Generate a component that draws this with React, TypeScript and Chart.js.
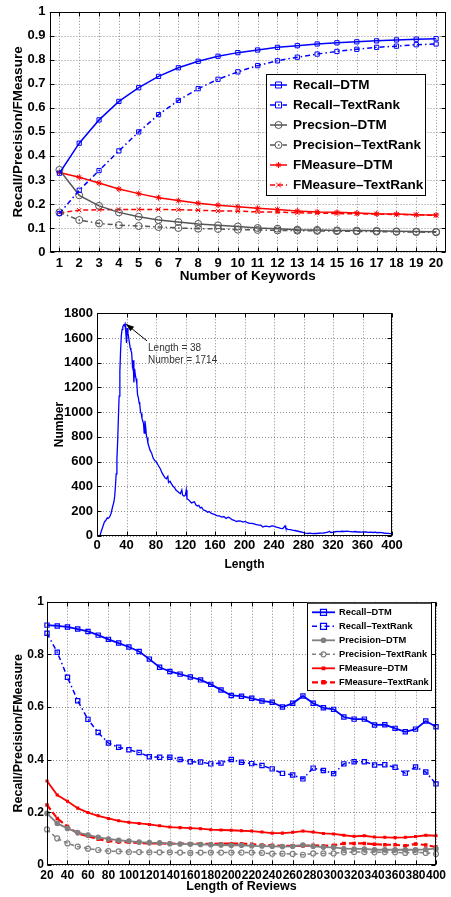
import React, { useEffect, useRef } from 'react';
import { Chart, registerables } from 'chart.js';

Chart.register(...registerables);

// ---------- Chart 1: Number of Keywords ----------
const keywordCounts = ['1','2','3','4','5','6','7','8','9','10','11','12','13','14','15','16','17','18','19','20'];
const kwRecallDTM = [0.328,0.453,0.550,0.627,0.684,0.731,0.767,0.794,0.815,0.830,0.841,0.852,0.859,0.866,0.871,0.875,0.879,0.883,0.886,0.888];
const kwRecallTextRank = [0.160,0.257,0.339,0.421,0.500,0.572,0.631,0.680,0.719,0.750,0.776,0.796,0.811,0.824,0.835,0.844,0.852,0.857,0.863,0.866];
const kwPrecisionDTM = [0.342,0.236,0.192,0.165,0.147,0.133,0.125,0.117,0.111,0.106,0.100,0.097,0.093,0.092,0.090,0.089,0.088,0.086,0.085,0.084];
const kwPrecisionTextRank = [0.165,0.133,0.119,0.112,0.108,0.104,0.100,0.097,0.096,0.093,0.092,0.090,0.089,0.088,0.087,0.086,0.085,0.084,0.083,0.082];
const kwFMeasureDTM = [0.331,0.311,0.287,0.262,0.243,0.226,0.214,0.203,0.195,0.188,0.182,0.177,0.171,0.167,0.165,0.162,0.159,0.158,0.155,0.154];
const kwFMeasureTextRank = [0.163,0.174,0.176,0.177,0.177,0.177,0.176,0.174,0.171,0.170,0.167,0.166,0.163,0.162,0.160,0.159,0.158,0.156,0.155,0.152];

// ---------- Chart 2: Length distribution ----------
const distLengths = [4,6,8,10,12,14,15,17,19,21,23,24,25,26,27,28,29,30,31,32,33,34,35,36,37,38,39,40,41,42,43,44,45,46,47,48,49,50,51,52,53,54,55,56,57,58,59,60,61,62,63,64,65,66,67,68,69,70,72,74,76,78,80,82,84,86,88,90,92,94,96,97,99,101,103,105,107,109,111,113,115,116,118,120,121,122,124,126,128,130,132,134,136,138,140,142,144,146,148,150,152,155,158,160,163,166,169,172,175,178,180,183,186,189,192,195,198,201,204,207,210,213,216,219,222,225,228,231,234,237,240,243,246,249,252,255,256,259,262,265,268,271,274,277,280,283,286,289,292,295,298,301,304,307,310,313,315,317,320,323,326,329,332,335,338,341,344,347,350,353,356,359,362,365,368,371,374,377,380,383,386,389,392,395,398,400];
const distCounts = [0,40,75,110,125,145,140,150,180,230,275,320,400,500,620,760,950,1130,1330,1500,1620,1670,1690,1705,1700,1714,1650,1560,1680,1640,1600,1560,1520,1500,1480,1380,1420,1240,1350,1300,1270,1230,1140,1120,1080,1060,1000,990,950,930,910,830,930,880,810,790,750,730,690,670,630,610,600,580,560,540,510,490,470,460,480,430,440,420,400,390,370,360,350,340,370,330,320,330,370,300,290,280,265,270,275,250,240,245,225,230,210,205,200,190,195,180,175,170,160,160,150,155,140,150,145,130,125,115,120,118,110,115,105,100,100,95,90,85,85,70,78,75,72,80,78,70,65,60,58,80,60,52,50,45,42,38,34,30,25,20,18,20,17,19,18,20,21,22,25,28,36,26,28,32,35,33,36,34,37,35,33,31,34,30,31,29,31,30,27,29,26,28,24,27,25,22,20,19,16,14];
const peakLength = 38;
const peakCount = 1714;

// ---------- Chart 3: Length of Reviews ----------
const reviewLengths = [20,30,40,50,60,70,80,90,100,110,120,130,140,150,160,170,180,190,200,210,220,230,240,250,260,270,280,290,300,310,320,330,340,350,360,370,380,390,400];
const rvRecallDTM = [0.911,0.908,0.904,0.896,0.887,0.873,0.857,0.843,0.828,0.811,0.782,0.751,0.735,0.725,0.714,0.703,0.686,0.665,0.644,0.641,0.633,0.623,0.618,0.600,0.614,0.642,0.614,0.597,0.591,0.562,0.554,0.554,0.532,0.533,0.519,0.506,0.516,0.547,0.525];
const rvRecallTextRank = [0.880,0.808,0.713,0.624,0.553,0.503,0.463,0.447,0.438,0.427,0.411,0.409,0.409,0.401,0.392,0.391,0.384,0.387,0.401,0.390,0.385,0.378,0.365,0.348,0.342,0.327,0.368,0.359,0.347,0.384,0.392,0.392,0.380,0.381,0.371,0.349,0.372,0.353,0.308];
const rvPrecisionDTM = [0.196,0.158,0.139,0.123,0.114,0.105,0.099,0.094,0.091,0.087,0.085,0.084,0.081,0.080,0.079,0.078,0.077,0.076,0.075,0.075,0.073,0.072,0.071,0.070,0.071,0.076,0.071,0.068,0.067,0.062,0.061,0.061,0.058,0.058,0.058,0.058,0.058,0.059,0.062];
const rvPrecisionTextRank = [0.135,0.101,0.082,0.070,0.062,0.057,0.053,0.052,0.049,0.049,0.048,0.048,0.048,0.047,0.046,0.047,0.047,0.047,0.047,0.047,0.047,0.046,0.043,0.043,0.042,0.039,0.044,0.044,0.044,0.048,0.049,0.049,0.048,0.049,0.048,0.046,0.049,0.046,0.042];
const rvFMeasureDTM = [0.319,0.266,0.242,0.216,0.199,0.187,0.177,0.168,0.162,0.158,0.154,0.149,0.144,0.142,0.140,0.138,0.134,0.133,0.132,0.130,0.129,0.125,0.121,0.121,0.124,0.129,0.125,0.120,0.118,0.113,0.109,0.111,0.106,0.105,0.104,0.105,0.108,0.113,0.111];
const rvFMeasureTextRank = [0.228,0.177,0.146,0.120,0.110,0.098,0.091,0.087,0.086,0.084,0.082,0.082,0.081,0.081,0.081,0.081,0.080,0.081,0.081,0.081,0.079,0.076,0.075,0.073,0.073,0.072,0.075,0.073,0.075,0.082,0.082,0.082,0.079,0.077,0.077,0.073,0.080,0.076,0.068];

const FONT = "'Liberation Sans', Arial, Helvetica, sans-serif";
const BLUE = '#0000ff';
const RED = '#ff0000';
const DASHDOT = [5, 3, 1.5, 3];

function drawMarker(ctx: CanvasRenderingContext2D, style: string, x: number, y: number, r: number, stroke: string, fill: string, lw: number) {
  ctx.save();
  ctx.setLineDash([]);
  ctx.lineWidth = lw;
  ctx.strokeStyle = stroke;
  ctx.fillStyle = fill;
  ctx.beginPath();
  if (style === 'rect') {
    ctx.rect(x - r, y - r, 2 * r, 2 * r);
    ctx.fill();
    ctx.stroke();
  } else if (style === 'circle') {
    ctx.arc(x, y, r, 0, Math.PI * 2);
    ctx.fill();
    ctx.stroke();
  } else if (style === 'star') {
    ctx.moveTo(x - r, y); ctx.lineTo(x + r, y);
    ctx.moveTo(x, y - r); ctx.lineTo(x, y + r);
    const d = r * 0.707;
    ctx.moveTo(x - d, y - d); ctx.lineTo(x + d, y + d);
    ctx.moveTo(x - d, y + d); ctx.lineTo(x + d, y - d);
    ctx.stroke();
  } else if (style === 'crossRot') {
    const d = r * 0.8;
    ctx.moveTo(x - d, y - d); ctx.lineTo(x + d, y + d);
    ctx.moveTo(x - d, y + d); ctx.lineTo(x + d, y - d);
    ctx.stroke();
  }
  ctx.restore();
}

// dotted MATLAB-style grid drawn beneath the data
const dottedGrid = {
  id: 'dottedGrid',
  beforeDatasetsDraw(chart: any) {
    const { ctx, chartArea: a, scales } = chart;
    ctx.save();
    ctx.strokeStyle = '#8c8c8c';
    ctx.lineWidth = 1;
    ctx.setLineDash([1, 2]);
    ctx.beginPath();
    const xs = scales.x;
    xs.ticks.forEach((_t: any, i: number) => {
      const p = Math.round(xs.getPixelForTick(i)) + 0.5;
      ctx.moveTo(p, a.top); ctx.lineTo(p, a.bottom);
    });
    const ys = scales.y;
    ys.ticks.forEach((_t: any, i: number) => {
      const p = Math.round(ys.getPixelForTick(i)) + 0.5;
      ctx.moveTo(a.left, p); ctx.lineTo(a.right, p);
    });
    ctx.stroke();
    ctx.restore();
  },
};

const framePlugin = {
  id: 'matlabFrame',
  afterDatasetsDraw(chart: any) {
    const { ctx, chartArea: a, scales } = chart;
    ctx.save();
    ctx.setLineDash([]);
    ctx.strokeStyle = '#000';
    ctx.lineWidth = 1;
    const L = Math.round(a.left) + 0.5, R = Math.round(a.right) - 0.5;
    const T = Math.round(a.top) + 0.5, B = Math.round(a.bottom) - 0.5;
    ctx.strokeRect(L, T, R - L, B - T);
    const tl = 4;
    ctx.beginPath();
    const xs = scales.x;
    xs.ticks.forEach((_t: any, i: number) => {
      const p = Math.round(xs.getPixelForTick(i)) + 0.5;
      ctx.moveTo(p, B); ctx.lineTo(p, B - tl);
      ctx.moveTo(p, T); ctx.lineTo(p, T + tl);
    });
    const ys = scales.y;
    ys.ticks.forEach((_t: any, i: number) => {
      const p = Math.round(ys.getPixelForTick(i)) + 0.5;
      ctx.moveTo(L, p); ctx.lineTo(L + tl, p);
      ctx.moveTo(R, p); ctx.lineTo(R - tl, p);
    });
    ctx.stroke();
    ctx.restore();
  },
};

function boxLegend(box: { x: number; y: number; w: number; h: number }, firstY: number, rowH: number, sx0: number, sx1: number, tx: number, fontSize: number) {
  return {
    id: 'boxLegend',
    afterDraw(chart: any) {
      const ctx = chart.ctx as CanvasRenderingContext2D;
      ctx.save();
      ctx.setLineDash([]);
      ctx.fillStyle = '#fff';
      ctx.fillRect(box.x, box.y, box.w, box.h);
      ctx.strokeStyle = '#000';
      ctx.lineWidth = 1;
      ctx.strokeRect(box.x + 0.5, box.y + 0.5, box.w, box.h);
      chart.data.datasets.forEach((ds: any, i: number) => {
        const y = firstY + i * rowH;
        ctx.save();
        ctx.setLineDash(ds.borderDash || []);
        ctx.strokeStyle = ds.borderColor;
        ctx.lineWidth = ds.borderWidth;
        ctx.beginPath();
        ctx.moveTo(sx0, y);
        ctx.lineTo(sx1, y);
        ctx.stroke();
        ctx.restore();
        drawMarker(ctx, ds.pointStyle, (sx0 + sx1) / 2, y, ds.pointRadius, ds.pointBorderColor || ds.borderColor, ds.pointBackgroundColor, ds.pointBorderWidth || 1);
        ctx.fillStyle = '#000';
        ctx.font = `bold ${fontSize}px ${FONT}`;
        ctx.textAlign = 'left';
        ctx.textBaseline = 'middle';
        ctx.fillText(ds.label, tx, y + 0.5);
      });
      ctx.restore();
    },
  };
}

const peakAnnotation = {
  id: 'peakAnnotation',
  afterDatasetsDraw(chart: any) {
    const { ctx, scales } = chart;
    const px = scales.x.getPixelForValue(peakLength);
    const py = scales.y.getPixelForValue(peakCount);
    ctx.save();
    ctx.strokeStyle = '#000';
    ctx.fillStyle = '#000';
    ctx.lineWidth = 1;
    const sx = px + 22, sy = py + 17;
    const ex = px + 1, ey = py;
    ctx.beginPath();
    ctx.moveTo(sx, sy);
    ctx.lineTo(ex, ey);
    ctx.stroke();
    const ang = Math.atan2(ey - sy, ex - sx);
    const hl = 8, hw = 3;
    ctx.beginPath();
    ctx.moveTo(ex, ey);
    ctx.lineTo(ex - hl * Math.cos(ang) + hw * Math.sin(ang), ey - hl * Math.sin(ang) - hw * Math.cos(ang));
    ctx.lineTo(ex - hl * Math.cos(ang) - hw * Math.sin(ang), ey - hl * Math.sin(ang) + hw * Math.cos(ang));
    ctx.closePath();
    ctx.fill();
    ctx.fillStyle = '#333';
    ctx.font = `10px ${FONT}`;
    ctx.textAlign = 'left';
    ctx.textBaseline = 'middle';
    ctx.fillText(`Length = ${peakLength}`, px + 23, py + 24);
    ctx.fillText(`Number = ${peakCount}`, px + 23, py + 36);
    ctx.restore();
  },
};

const noGrid = { display: false, drawTicks: false };
const noBorder = { display: false };

function config1(): any {
  const mk = (label: string, data: number[], color: string, dash: number[], style: string, r: number) => ({
    label, data, borderColor: color, borderWidth: 1.5, borderDash: dash,
    pointStyle: style, pointRadius: r, pointBorderColor: color, pointBackgroundColor: 'rgba(0,0,0,0)', pointBorderWidth: 1,
    tension: 0, clip: false,
  });
  return {
    type: 'line',
    data: {
      labels: keywordCounts,
      datasets: [
        mk('Recall–DTM', kwRecallDTM, BLUE, [], 'rect', 3),
        mk('Recall–TextRank', kwRecallTextRank, BLUE, DASHDOT, 'rect', 3),
        mk('Precsion–DTM', kwPrecisionDTM, '#555555', [], 'circle', 3.5),
        mk('Precision–TextRank', kwPrecisionTextRank, '#555555', DASHDOT, 'circle', 3.5),
        mk('FMeasure–DTM', kwFMeasureDTM, RED, [], 'star', 3),
        mk('FMeasure–TextRank', kwFMeasureTextRank, RED, [5, 3], 'crossRot', 3),
      ],
    },
    options: {
      responsive: false, animation: false,
      layout: { padding: { left: 9.9, right: 5, top: 9.5, bottom: 5.9 } },
      plugins: { legend: { display: false }, tooltip: { enabled: false } },
      scales: {
        x: {
          type: 'category', offset: true,
          grid: { ...noGrid, offset: false },
          border: noBorder,
          ticks: { color: '#000', font: { family: FONT, size: 13, weight: 'bold' }, padding: 3.2, maxRotation: 0, autoSkip: false },
          title: { display: true, text: 'Number of Keywords', color: '#000', padding: 0, font: { family: FONT, size: 13.5, weight: 'bold' } },
          afterFit: (s: any) => { s.height = 32.1; },
        },
        y: {
          min: 0, max: 1,
          grid: noGrid,
          border: noBorder,
          ticks: { stepSize: 0.1, color: '#000', font: { family: FONT, size: 13, weight: 'bold' }, padding: 4, callback: (v: number) => String(Math.round(v * 10) / 10) },
          title: { display: true, text: 'Recall/Precision/FMeasure', color: '#000', padding: 0, font: { family: FONT, size: 13.5, weight: 'bold' } },
          afterFit: (s: any) => { s.width = 39.6; },
        },
      },
    },
    plugins: [dottedGrid, framePlugin, boxLegend({ x: 266, y: 74, w: 159, h: 121 }, 85, 20, 270, 287, 293, 13.5)],
  };
}

function config2(): any {
  return {
    type: 'line',
    data: {
      datasets: [{
        label: 'Number',
        data: distLengths.map((x, i) => ({ x, y: distCounts[i] })),
        borderColor: BLUE, borderWidth: 1.3, pointRadius: 0, tension: 0,
      }],
    },
    options: {
      responsive: false, animation: false,
      layout: { padding: { left: 52.8, right: 59, top: 13.3, bottom: 17.8 } },
      plugins: { legend: { display: false }, tooltip: { enabled: false } },
      scales: {
        x: {
          type: 'linear', min: 0, max: 400,
          grid: noGrid,
          border: noBorder,
          ticks: { stepSize: 40, color: '#000', font: { family: FONT, size: 13, weight: 'bold' }, padding: 1.8, maxRotation: 0, autoSkip: false, callback: (v: number) => String(v) },
          title: { display: true, text: 'Length', color: '#000', padding: 0, font: { family: FONT, size: 12, weight: 'bold' } },
          afterFit: (s: any) => { s.height = 36.5; },
        },
        y: {
          min: 0, max: 1800,
          grid: noGrid,
          border: noBorder,
          ticks: { stepSize: 200, color: '#000', font: { family: FONT, size: 13, weight: 'bold' }, padding: 4, callback: (v: number) => String(v) },
          title: { display: true, text: 'Number', color: '#000', padding: 0, font: { family: FONT, size: 12, weight: 'bold' } },
          afterFit: (s: any) => { s.width = 44.2; },
        },
      },
    },
    plugins: [dottedGrid, framePlugin, peakAnnotation],
  };
}

function config3(): any {
  const GRAY = '#808080';
  const mk = (label: string, data: number[], color: string, dash: number[], style: string, r: number, fill: string, bw: number) => ({
    label, data: reviewLengths.map((x, i) => ({ x, y: data[i] })), borderColor: color, borderWidth: bw, borderDash: dash,
    pointStyle: style, pointRadius: r, pointBorderColor: color, pointBackgroundColor: fill, pointBorderWidth: 1.2,
    tension: 0, clip: false,
  });
  return {
    type: 'line',
    data: {
      datasets: [
        mk('Recall–DTM', rvRecallDTM, BLUE, [], 'rect', 3, 'rgba(0,0,0,0)', 1.8),
        mk('Recall–TextRank', rvRecallTextRank, BLUE, DASHDOT, 'rect', 3, 'rgba(0,0,0,0)', 1.5),
        mk('Precision–DTM', rvPrecisionDTM, GRAY, [], 'circle', 2.2, GRAY, 1.8),
        mk('Precision–TextRank', rvPrecisionTextRank, GRAY, [4, 3], 'circle', 2.5, 'rgba(0,0,0,0)', 1.5),
        mk('FMeasure–DTM', rvFMeasureDTM, RED, [], 'rect', 1.3, RED, 1.8),
        mk('FMeasure–TextRank', rvFMeasureTextRank, RED, [6, 3], 'rect', 1.6, RED, 2.2),
      ],
    },
    options: {
      responsive: false, animation: false,
      layout: { padding: { left: 10.8, right: 15, top: 11.7, bottom: 2.8 } },
      plugins: { legend: { display: false }, tooltip: { enabled: false } },
      scales: {
        x: {
          type: 'linear', min: 20, max: 400,
          grid: noGrid,
          border: noBorder,
          ticks: { stepSize: 20, color: '#000', font: { family: FONT, size: 12, weight: 'bold' }, padding: 3.5, maxRotation: 0, autoSkip: false, callback: (v: number) => String(v) },
          title: { display: true, text: 'Length of Reviews', color: '#000', padding: 0, font: { family: FONT, size: 12.5, weight: 'bold' } },
          afterFit: (s: any) => { s.height = 29.2; },
        },
        y: {
          min: 0, max: 1,
          grid: noGrid,
          border: noBorder,
          ticks: { stepSize: 0.2, color: '#000', font: { family: FONT, size: 12, weight: 'bold' }, padding: 3, callback: (v: number) => String(Math.round(v * 10) / 10) },
          title: { display: true, text: 'Recall/Precision/FMeasure', color: '#000', padding: 0, font: { family: FONT, size: 12.5, weight: 'bold' } },
          afterFit: (s: any) => { s.width = 36.2; },
        },
      },
    },
    plugins: [dottedGrid, framePlugin, boxLegend({ x: 307, y: 12.7, w: 124, h: 87.3 }, 22.3, 14, 312, 335, 339, 9.3)],
  };
}

function ChartPanel({ top, height, makeConfig }: { top: number; height: number; makeConfig: () => any }) {
  const ref = useRef<HTMLCanvasElement>(null);
  useEffect(() => {
    const chart = new Chart(ref.current as HTMLCanvasElement, makeConfig());
    return () => chart.destroy();
  }, []);
  return (
    <div style={{ position: 'absolute', left: 0, top, width: 451, height }}>
      <canvas ref={ref} width={451} height={height} style={{ display: 'block', width: 451, height }} />
    </div>
  );
}

export default function App() {
  return (
    <div style={{ position: 'absolute', left: 0, top: 0, width: 451, height: 897, background: '#fff', overflow: 'hidden' }}>
      <ChartPanel top={0} height={290} makeConfig={config1} />
      <ChartPanel top={300} height={290} makeConfig={config2} />
      <ChartPanel top={590} height={307} makeConfig={config3} />
    </div>
  );
}
